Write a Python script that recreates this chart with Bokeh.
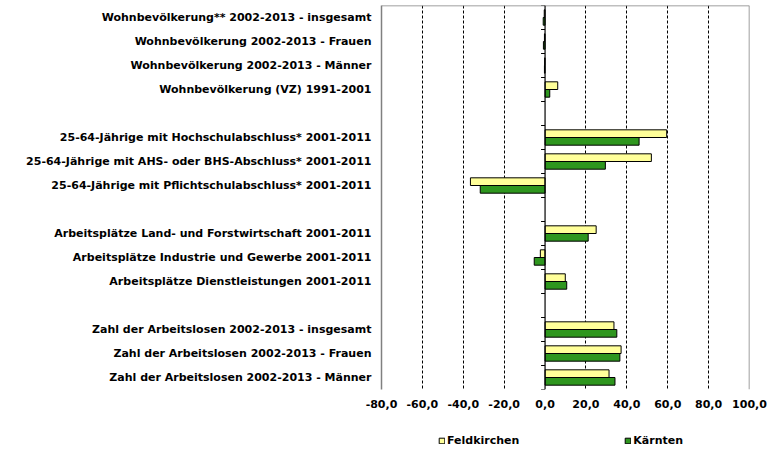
from bokeh.plotting import figure
from bokeh.layouts import column
from bokeh.models import (ColumnDataSource, Range1d, FixedTicker, Span, Legend,
                          LegendItem)
from bokeh.embed import file_html
from bokeh.resources import INLINE
import math

categories = [
    "Wohnbevölkerung** 2002-2013 - insgesamt",
    "Wohnbevölkerung 2002-2013 - Frauen",
    "Wohnbevölkerung 2002-2013 - Männer",
    "Wohnbevölkerung (VZ) 1991-2001",
    "",
    "25-64-Jährige mit Hochschulabschluss* 2001-2011",
    "25-64-Jährige mit AHS- oder BHS-Abschluss* 2001-2011",
    "25-64-Jährige mit Pflichtschulabschluss* 2001-2011",
    "",
    "Arbeitsplätze Land- und Forstwirtschaft 2001-2011",
    "Arbeitsplätze Industrie und Gewerbe 2001-2011",
    "Arbeitsplätze Dienstleistungen 2001-2011",
    "",
    "Zahl der Arbeitslosen 2002-2013 - insgesamt",
    "Zahl der Arbeitslosen 2002-2013 - Frauen",
    "Zahl der Arbeitslosen 2002-2013 - Männer",
]
feldkirchen = [-0.4, -0.3, -0.2, 6.2, None, 59.5, 52.0, -36.5, None,
               25.0, -2.3, 9.9, None, 33.7, 37.2, 31.3]
kaernten = [-0.9, -0.8, -0.3, 2.3, None, 46.0, 29.5, -31.7, None,
            21.1, -5.3, 10.6, None, 35.1, 36.6, 34.2]
series_names = ["Feldkirchen", "Kärnten"]
x_ticks = [-80, -60, -40, -20, 0, 20, 40, 60, 80, 100]

YELLOW = "#FFFF99"
GREEN = "#2E961E"
FONT = "DejaVu Sans"

rows = [i for i, c in enumerate(categories) if c]
n = len(categories)
src_f = ColumnDataSource(dict(y=[i - 0.16 for i in rows], v=[feldkirchen[i] for i in rows]))
src_k = ColumnDataSource(dict(y=[i + 0.16 for i in rows], v=[kaernten[i] for i in rows]))

x_start, x_end = x_ticks[0], x_ticks[-1]
p = figure(width=769, height=410, output_backend="svg", toolbar_location=None,
           x_range=Range1d(x_start, x_end), y_range=Range1d(n - 0.5, -0.5),
           min_border_left=381, min_border_right=20, min_border_top=5,
           min_border_bottom=20)
p.outline_line_color = None
p.background_fill_color = "white"
p.border_fill_color = "white"

# grid
p.ygrid.grid_line_color = None
p.xgrid.ticker = FixedTicker(ticks=[t for t in x_ticks if t not in (0, x_start, x_end)])
p.xgrid.grid_line_color = "black"
p.xgrid.grid_line_dash = "3 2"
p.xgrid.grid_line_width = 1

# borders (top, right) and zero line
p.add_layout(Span(location=-0.5, dimension="width", line_color="#808080", line_width=1.5))
p.add_layout(Span(location=x_end, dimension="height", line_color="#808080", line_width=1.5))

r_f = p.hbar(y="y", right="v", left=0, height=0.32, source=src_f,
             fill_color=YELLOW, line_color="black", line_width=1)
r_k = p.hbar(y="y", right="v", left=0, height=0.32, source=src_k,
             fill_color=GREEN, line_color="black", line_width=1)

p.add_layout(Span(location=0, dimension="height", line_color="black", line_width=1.2))
# category tick marks on the zero axis
p.ray(x=[0] * (n + 1), y=[i - 0.5 for i in range(n + 1)], length=4,
      length_units="screen", angle=math.pi, line_color="black", line_width=1)

# x axis
p.xaxis.ticker = FixedTicker(ticks=x_ticks)
p.xaxis.major_label_overrides = {t: f"{t:.1f}".replace(".", ",") for t in x_ticks}
p.xaxis.axis_line_color = None
p.xaxis.major_tick_line_color = None
p.xaxis.minor_tick_line_color = None
p.xaxis.major_label_standoff = 4
p.xaxis.major_label_text_font = FONT
p.xaxis.major_label_text_font_style = "bold"
p.xaxis.major_label_text_font_size = "11px"
p.xaxis.major_label_text_color = "black"

# y axis
p.yaxis.ticker = FixedTicker(ticks=list(range(n)))
p.yaxis.major_label_overrides = {i: categories[i] for i in range(n)}
p.yaxis.axis_line_color = "#808080"
p.yaxis.axis_line_width = 1.5
p.yaxis.major_tick_line_color = None
p.yaxis.minor_tick_line_color = None
p.yaxis.major_label_standoff = 4
p.yaxis.major_label_text_font = FONT
p.yaxis.major_label_text_font_style = "bold"
p.yaxis.major_label_text_font_size = "11px"
p.yaxis.major_label_text_color = "black"

# legend in its own strip below the chart (frame aligned with the chart's frame)
pl = figure(width=769, height=40, output_backend="svg", toolbar_location=None,
            min_border_left=381, min_border_right=20, min_border_top=0,
            min_border_bottom=0, x_range=Range1d(0, 1), y_range=Range1d(0, 1))
pl.axis.visible = False
pl.grid.visible = False
pl.outline_line_color = None
nan = float("nan")
lf = pl.hbar(y="y", right="v", height=0.3,
             source=ColumnDataSource(dict(y=[nan], v=[nan])),
             fill_color=YELLOW, line_color="black", line_width=1)
lk = pl.hbar(y="y", right="v", height=0.3,
             source=ColumnDataSource(dict(y=[nan], v=[nan])),
             fill_color=GREEN, line_color="black", line_width=1)
legend = Legend(items=[LegendItem(label=series_names[0], renderers=[lf]),
                       LegendItem(label=series_names[1], renderers=[lk])],
                orientation="horizontal", location=(57, 3),
                glyph_width=7, glyph_height=7, label_standoff=2, spacing=105,
                label_text_font=FONT, label_text_font_style="bold",
                label_text_font_size="11px", label_text_color="black",
                label_height=12,
                border_line_color=None, background_fill_alpha=0,
                padding=0, margin=0)
pl.add_layout(legend, "center")

layout = column(p, pl, spacing=0)
open("out.html", "w").write(file_html(layout, INLINE))
